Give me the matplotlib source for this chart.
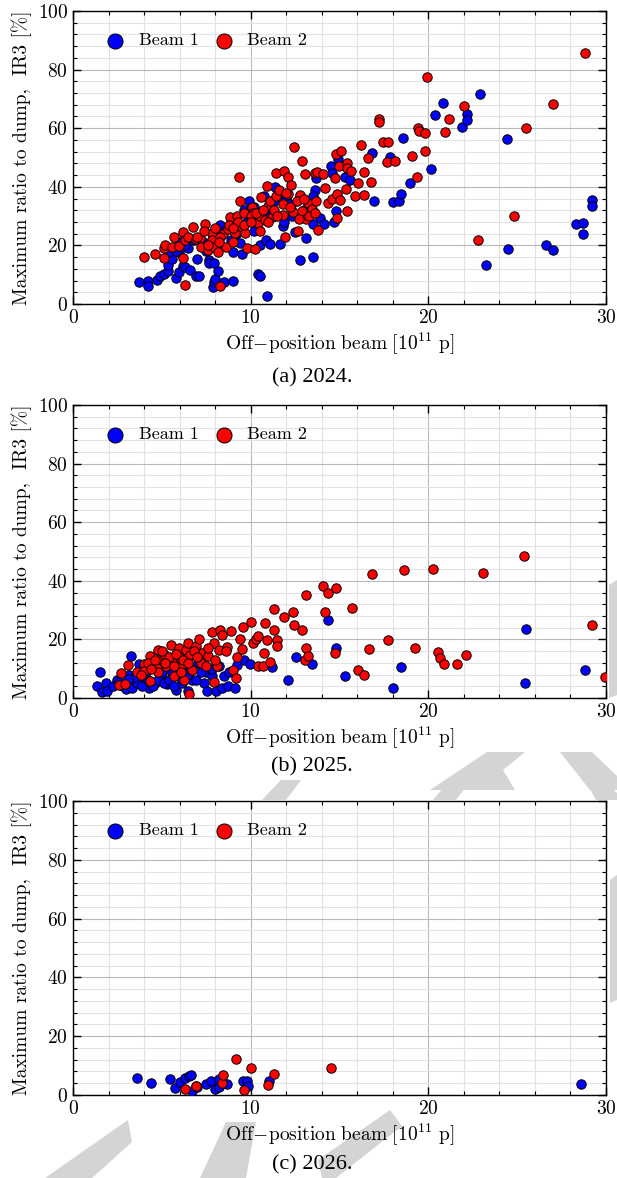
import numpy as np
import matplotlib.pyplot as plt
from matplotlib.ticker import MultipleLocator
from matplotlib.patches import Polygon

plt.rcParams['mathtext.fontset'] = 'cm'
plt.rcParams['axes.formatter.use_mathtext'] = True
CM = ['cmr10', 'DejaVu Serif']

# ---- 2024 ----
b1_2024_x = [3.7, 4.2, 4.2, 4.7, 4.9, 5.1, 5.35, 5.35, 5.6, 5.8, 5.95, 5.4, 5.95, 6.2, 6.3, 6.6, 6.5,
             6.95, 7.1, 7.0, 7.65, 7.65, 7.95, 7.9, 7.95, 8.0, 8.15, 8.5, 9.0, 9.0, 9.5, 8.3, 9.4, 9.9,
             10.4, 10.55, 10.5, 10.85, 10.9, 11.1, 10.75, 11.35, 11.8, 11.65, 12.25, 12.5, 12.8, 13.1,
             13.5, 13.5, 13.6, 13.7, 13.9, 14.15, 14.5, 14.6, 14.8, 14.7, 14.9, 15.3, 15.6, 16.85,
             16.95, 17.85, 18.0, 18.35, 18.45, 18.6, 18.95, 20.15, 20.4, 20.8, 21.9, 22.2, 22.2, 22.9,
             23.25, 24.4, 24.5, 26.6, 27.0, 28.3, 28.7, 28.7, 29.2, 29.2,
             8.5, 9.0, 9.2, 9.6, 10.2, 10.5, 11.0, 11.3, 11.5, 12.0, 12.3, 12.8, 13.2, 13.5, 10.2,
             9.8, 8.9, 8.3, 7.8, 7.3, 7.5, 6.8, 6.3, 5.8, 6.0, 11.9, 12.2, 13.0]
b1_2024_y = [7.5, 7.7, 6.2, 8.3, 9.6, 10.2, 11.4, 13.4, 15.3, 8.9, 10.8, 17.9, 17.7, 13.1, 12.6, 11.7, 19.1,
             9.6, 9.6, 15.3, 15.1, 14.0, 14.0, 5.8, 7.4, 8.5, 11.4, 7.4, 7.7, 17.7, 17.1, 27.0, 20.8, 35.0,
             10.2, 9.6, 20.2, 21.7, 2.6, 20.4, 36.7, 40.0, 26.7, 20.4, 33.8, 24.5, 15.1, 22.5,
             16.0, 27.4, 38.9, 43.1, 29.3, 27.2, 47.2, 44.6, 31.9, 28.1, 49.5, 43.5, 42.3, 51.4,
             35.3, 50.1, 34.7, 35.3, 37.6, 56.5, 41.4, 46.1, 64.5, 68.7, 60.5, 65.0, 62.8, 71.8,
             13.4, 56.2, 18.8, 20.0, 18.5, 27.4, 27.6, 23.8, 35.5, 33.5,
             25.0, 27.0, 24.0, 32.0, 33.0, 30.0, 31.0, 35.0, 37.0, 36.0, 30.0, 37.0, 33.0, 37.0, 25.0,
             28.0, 22.0, 20.0, 22.0, 21.0, 18.0, 22.0, 20.0, 18.0, 21.0, 28.0, 34.0, 32.0]
b2_2024_x = [4.0, 4.6, 5.1, 5.15, 5.2, 5.55, 5.7, 5.95, 6.2, 6.3, 6.2, 6.3, 6.5, 6.75, 6.9, 7.15, 7.2,
             7.45, 7.6, 7.8, 7.8, 7.95, 8.15, 8.3, 8.45, 8.6, 8.7, 8.85, 9.0, 9.1, 9.25, 9.35, 9.4, 9.5,
             9.6, 9.7, 9.8, 10.05, 10.15, 10.25, 10.4, 10.5, 10.6, 10.8, 10.9, 11.0, 11.1, 11.2, 11.4,
             11.4, 11.6, 11.8, 11.85, 11.95, 12.1, 12.1, 12.25, 12.4, 12.45, 12.65, 12.8, 12.9, 12.9,
             13.05, 13.1, 13.25, 13.45, 13.6, 13.7, 13.8, 13.75, 14.05, 14.2, 14.35, 14.6, 14.75, 14.85,
             14.85, 14.8, 14.95, 15.0, 15.1, 15.35, 15.4, 15.45, 15.45, 15.65, 15.9, 16.05, 16.2, 16.4,
             16.4, 16.6, 16.8, 17.25, 17.25, 17.45, 17.65, 17.75, 18.1, 19.1, 19.35, 19.4, 19.5, 19.8,
             19.8, 19.9, 20.95, 21.15, 22.0, 22.8, 24.8, 25.5, 27.0, 28.8,
             7.0, 7.4, 8.0, 8.3, 8.8, 9.3, 9.6, 10.0, 10.3, 10.7, 11.0, 11.3, 11.8, 12.0, 12.6, 13.0,
             13.3, 13.6, 10.5, 9.0, 8.2, 7.6, 10.0, 11.5, 12.2, 12.7]
b2_2024_y = [15.9, 17.0, 19.1, 15.7, 20.2, 19.4, 23.0, 19.9, 24.7, 6.6, 15.7, 21.9, 23.0, 26.2, 22.1, 22.5,
             19.6, 27.4, 18.3, 24.2, 21.7, 19.6, 17.9, 6.0, 24.0, 19.6, 25.5, 29.6, 21.3, 24.2, 29.9,
             43.5, 35.0, 26.4, 31.0, 24.4, 19.1, 33.0, 31.2, 18.7, 27.8, 29.9, 36.4, 28.7, 40.4, 33.5,
             35.0, 29.6, 44.6, 36.7, 38.9, 30.4, 45.5, 22.7, 43.5, 37.6, 40.6, 31.3, 53.7, 25.0, 37.2,
             48.9, 31.9, 44.4, 28.9, 34.4, 32.5, 44.6, 35.0, 25.3, 45.2, 44.4, 39.5, 34.6, 35.8, 42.9,
             37.6, 29.3, 51.2, 47.1, 35.5, 52.2, 39.2, 31.6, 48.2, 46.3, 45.5, 36.7, 41.4, 54.3, 37.2,
             45.2, 49.7, 41.8, 63.0, 62.2, 55.4, 48.6, 55.2, 48.8, 50.6, 43.5, 60.2, 59.0, 52.3,
             58.5, 77.5, 58.6, 63.1, 67.5, 21.7, 30.2, 59.9, 68.1, 85.5,
             23.0, 25.0, 26.0, 23.0, 27.0, 28.0, 27.0, 30.0, 31.0, 32.0, 28.0, 32.0, 34.0, 38.0, 35.0,
             36.0, 30.0, 31.0, 25.0, 26.0, 21.0, 20.0, 28.0, 30.0, 33.0, 29.0]

# ---- 2025 ----
b1_2025_x = [1.35, 1.5, 1.65, 1.85, 1.9, 2.25, 2.5, 2.7, 3.25, 3.15, 3.4, 3.7, 3.95, 4.3, 4.6, 4.95,
             5.3, 5.6, 5.8, 6.15, 6.45, 6.7, 7.05, 7.4, 7.55, 7.5, 7.8, 8.05, 8.4, 8.5, 8.75, 9.1,
             9.25, 9.65, 9.95, 11.2, 12.1, 12.55, 13.45, 14.35, 14.8, 15.3, 18.0, 18.45, 25.5,
             25.45, 28.8,
             2.8, 3.0, 3.3, 3.6, 3.9, 4.2, 4.5, 4.8, 5.1, 5.4, 5.7, 6.0, 6.4, 6.9, 7.2, 3.5, 4.1, 5.0,
             6.6, 7.8, 2.6, 3.1, 8.2, 8.8]
b1_2025_y = [4.0, 8.9, 2.0, 5.1, 2.3, 4.0, 6.3, 4.5, 14.2, 8.0, 5.1, 11.7, 6.3, 3.4, 5.1, 7.4,
             4.8, 8.5, 2.8, 5.1, 2.3, 6.3, 11.9, 5.1, 2.3, 8.8, 7.6, 2.3, 3.4, 7.6, 4.0, 3.4,
             11.4, 12.8, 11.7, 10.6, 6.0, 13.9, 11.6, 26.7, 17.0, 7.4, 3.4, 10.6, 23.5,
             5.1, 9.4,
             4.0, 3.0, 3.5, 5.0, 4.0, 6.0, 4.0, 6.0, 5.0, 6.0, 4.0, 7.0, 8.0, 6.0, 9.0, 7.0, 9.0, 9.0,
             10.0, 10.0, 5.5, 6.5, 11.0, 9.0]
b2_2025_x = [2.6, 2.7, 2.95, 3.1, 3.6, 4.0, 4.0, 4.35, 4.35, 4.5, 4.7, 4.8, 4.9, 5.15, 5.25, 5.5,
             5.6, 5.7, 5.95, 6.05, 6.15, 6.25, 6.35, 6.45, 6.55, 6.6, 6.7, 6.95, 7.1, 7.25, 7.6, 7.8,
             7.95, 7.95, 8.1, 8.2, 8.25, 8.4, 8.65, 8.9, 9.0, 9.15, 9.25, 9.4, 9.5, 9.55, 10.0, 10.15,
             10.3, 10.4, 10.4, 10.7, 10.75, 10.8, 10.9, 11.1, 11.3, 11.3, 11.5, 11.5, 11.85, 12.4,
             12.45, 12.9, 13.05, 13.1, 13.1, 13.2, 14.05, 14.2, 14.35, 14.75, 14.8, 15.7, 16.05, 16.4,
             16.65, 16.85, 17.75, 18.65, 19.25, 20.25, 20.55, 20.65, 20.9, 21.6, 22.1, 23.05, 25.4,
             29.2, 29.95,
             4.2, 4.6, 5.0, 5.4, 5.8, 6.2, 6.8, 7.2, 7.5, 8.0, 5.2, 4.8, 6.5, 7.0, 3.8, 4.4, 5.7, 6.1,
             7.6, 8.6]
b2_2025_y = [4.5, 8.5, 4.8, 11.1, 8.8, 11.7, 9.1, 14.2, 5.7, 11.9, 10.2, 16.3, 13.3, 15.1, 10.8, 18.2,
             13.1, 7.4, 17.0, 14.0, 11.4, 6.3, 16.5, 18.8, 1.4, 14.8, 9.7, 17.8, 20.1, 15.3, 14.2, 22.5,
             18.8, 5.3, 11.0, 16.5, 23.1, 21.6, 17.4, 22.7, 9.7, 6.8, 14.0, 20.1, 16.7, 24.4, 25.8, 18.8,
             20.1, 21.3, 10.8, 11.0, 15.3, 25.6, 19.7, 12.2, 30.5, 23.3, 19.7, 17.8, 27.8, 29.3,
             24.8, 23.1, 12.8, 35.0, 17.0, 14.4, 38.3, 29.3, 35.8, 15.3, 37.5, 30.7, 9.4, 8.0,
             16.7, 42.4, 19.9, 43.8, 17.0, 44.1, 15.7, 13.6, 11.7, 11.6, 14.8, 42.6, 48.5,
             25.0, 7.2,
             12.0, 13.0, 16.0, 14.0, 15.0, 13.0, 16.0, 12.0, 11.0, 13.0, 12.0, 9.0, 12.0, 14.0, 8.0, 10.0,
             11.0, 9.0, 17.0, 16.0]

# ---- 2026 ----
b1_2026_x = [3.6, 4.4, 5.45, 5.75, 6.0, 6.3, 6.55, 6.65, 6.7, 6.9, 7.0, 7.5, 7.75, 8.0, 8.2, 8.2,
             8.65, 9.55, 9.8, 9.85, 11.05, 28.6]
b1_2026_y = [5.9, 4.0, 5.4, 2.5, 4.5, 5.7, 6.5, 6.8, 1.5, 3.1, 2.8, 3.7, 4.9, 1.9, 5.4, 2.8,
             3.7, 4.8, 4.8, 3.1, 4.9, 3.7]
b2_2026_x = [6.3, 6.9, 8.4, 8.45, 9.2, 9.65, 10.0, 10.95, 11.3, 14.5]
b2_2026_y = [2.0, 3.2, 4.2, 6.8, 12.4, 1.7, 9.2, 3.4, 7.0, 9.2]

panels = [
    (b1_2024_x, b1_2024_y, b2_2024_x, b2_2024_y, '(a) 2024.'),
    (b1_2025_x, b1_2025_y, b2_2025_x, b2_2025_y, '(b) 2025.'),
    (b1_2026_x, b1_2026_y, b2_2026_x, b2_2026_y, '(c) 2026.'),
]

W, H = 617, 1178
fig = plt.figure(figsize=(W / 100, H / 100), dpi=100)

# faint gray watermark pieces showing around the axes (pixel coords, y down)
marks = [
    [(430, 790), (487, 752), (525, 752), (503, 770), (515, 790)],
    [(560, 752), (592, 752), (617, 776), (617, 790), (590, 790)],
    [(609, 585), (617, 580), (617, 695), (609, 698)],
    [(262, 800), (281, 780), (301, 780), (286, 800)],
    [(433, 800), (450, 780), (471, 780), (456, 800)],
    [(585, 780), (602, 780), (617, 793), (617, 800), (596, 800)],
    [(610, 880), (617, 875), (617, 1000), (610, 1003)],
    [(45, 1178), (128, 1120), (132, 1142), (92, 1178)],
    [(200, 1178), (226, 1122), (256, 1122), (246, 1178)],
    [(318, 1160), (390, 1110), (402, 1126), (336, 1178), (322, 1178)],
]
for pts in marks:
    fig.add_artist(Polygon([(px / W, 1 - py / H) for px, py in pts], closed=True,
                           transform=fig.transFigure, facecolor='#d4d4d4', edgecolor='none', zorder=0))

# axes boxes in pixels: (top of y=100, bottom of y=0)
boxes = [(11, 304), (405, 698), (801, 1095)]
captions_y = [378, 767, 1165]
left, right = 73, 606

for (x1, y1, x2, y2, cap), (top, bot), cy in zip(panels, boxes, captions_y):
    ax = fig.add_axes([left / W, 1 - bot / H, (right - left) / W, (bot - top) / H])
    ax.set_zorder(2)
    ax.scatter(x1, y1, s=46, c='#0000ff', edgecolors='black', linewidths=0.7, zorder=3, label='Beam 1')
    ax.scatter(x2, y2, s=46, c='#ff0000', edgecolors='black', linewidths=0.7, zorder=3, label='Beam 2')
    ax.set_xlim(0, 30)
    ax.set_ylim(0, 100)
    ax.xaxis.set_major_locator(MultipleLocator(10))
    ax.xaxis.set_minor_locator(MultipleLocator(2))
    ax.yaxis.set_major_locator(MultipleLocator(20))
    ax.yaxis.set_minor_locator(MultipleLocator(4))
    ax.tick_params(which='both', direction='in', top=True, right=True, labelsize=14)
    ax.tick_params(which='major', length=6, width=1)
    ax.tick_params(which='minor', length=3, width=0.8)
    for lab in ax.get_xticklabels() + ax.get_yticklabels():
        lab.set_family(CM)
    ax.grid(which='major', color='#b8b8b8', linewidth=0.8)
    ax.grid(which='minor', color='#e2e2e2', linewidth=0.8)
    ax.set_axisbelow(True)
    for sp in ax.spines.values():
        sp.set_linewidth(1.0)
    ax.set_xlabel(r'$\mathrm{Off}\!-\!\mathrm{position\ beam\ [10^{11}\ p]}$', fontsize=14, labelpad=3)
    ax.set_ylabel('Maximum ratio to dump,  IR3 [%]', family=CM, fontsize=14, labelpad=4)
    ax.legend(loc='upper left', ncol=2, frameon=False, prop={'family': CM, 'size': 13},
              markerscale=1.6, handletextpad=0.3, columnspacing=0.4, borderaxespad=0.8,
              bbox_to_anchor=(0.005, 1.0))
    fig.text(312 / W, 1 - cy / H, cap, ha='center', va='center', family='Liberation Serif', fontsize=16)

fig.savefig('out.png', dpi=100)
